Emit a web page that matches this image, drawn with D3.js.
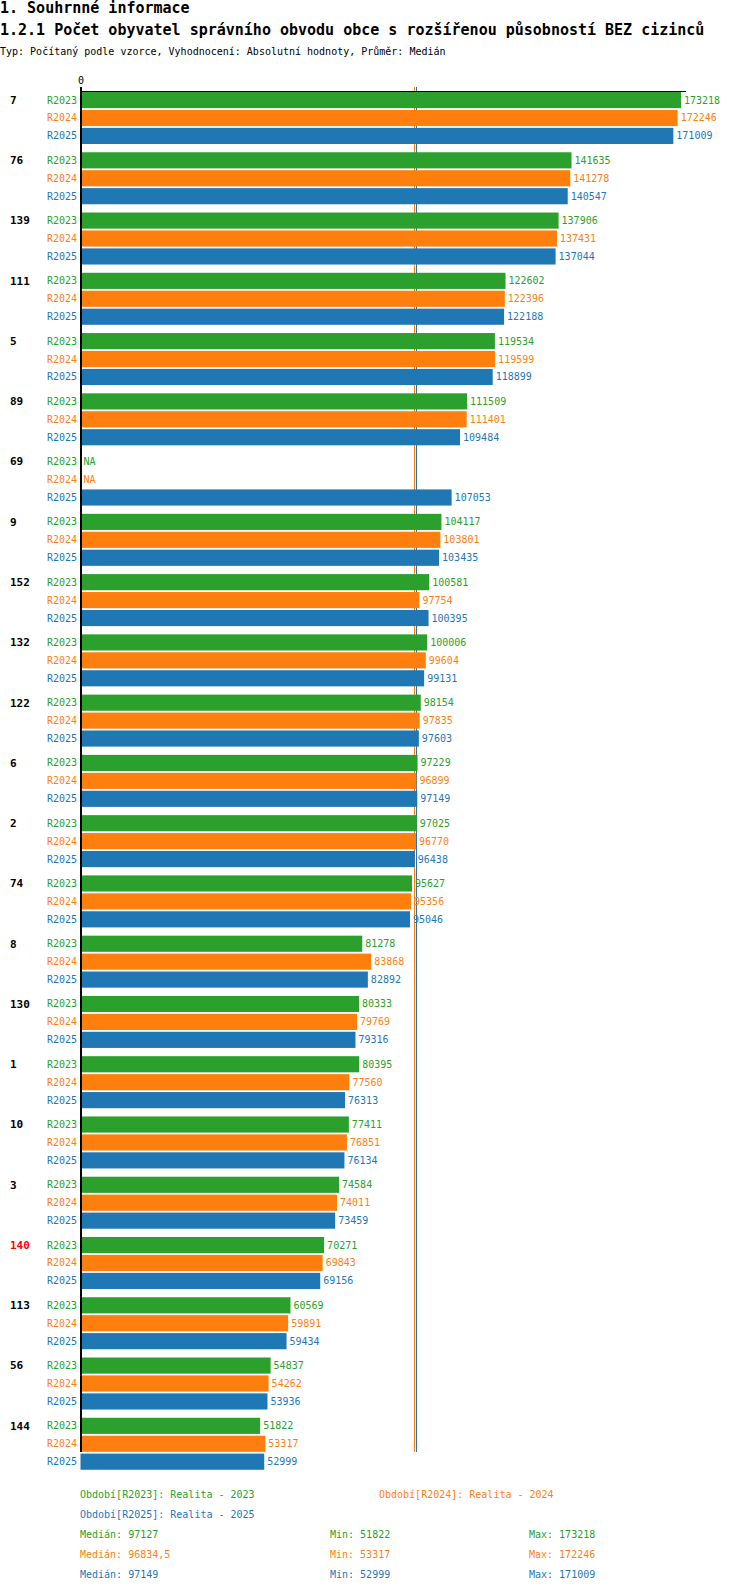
<!DOCTYPE html>
<html>
<head>
<meta charset="utf-8">
<script src="https://cdn.jsdelivr.net/npm/d3@7"></script>
<style>
  body { margin: 0; background: #fff; }
  text { font-family: 'DejaVu Sans Mono', 'Liberation Mono', monospace; }
  .title { font-size: 15px; font-weight: bold; }
  .sub { font-size: 10px; }
  .grp { font-size: 11px; font-weight: bold; }
  .lbl { font-size: 10px; }
</style>
</head>
<body>
<div id="chart"></div>
<script>
// Obvody (poradi jako v grafu)
const categories = ['7', '76', '139', '111', '5', '89', '69', '9', '152', '132', '122',
  '6', '2', '74', '8', '130', '1', '10', '3', '140', '113', '56', '144'];
const highlighted = ['140'];

const series = ['R2023', 'R2024', 'R2025'];
const seriesNames = ['Realita - 2023', 'Realita - 2024', 'Realita - 2025'];

const r2023 = [173218, 141635, 137906, 122602, 119534, 111509, null, 104117, 100581, 100006, 98154,
  97229, 97025, 95627, 81278, 80333, 80395, 77411, 74584, 70271, 60569, 54837, 51822];
const r2024 = [172246, 141278, 137431, 122396, 119599, 111401, null, 103801, 97754, 99604, 97835,
  96899, 96770, 95356, 83868, 79769, 77560, 76851, 74011, 69843, 59891, 54262, 53317];
const r2025 = [171009, 140547, 137044, 122188, 118899, 109484, 107053, 103435, 100395, 99131, 97603,
  97149, 96438, 95046, 82892, 79316, 76313, 76134, 73459, 69156, 59434, 53936, 52999];

const xTicks = [0];

const colors = ['#2ca02c', '#ff7f0e', '#1f77b4'];

const values = [r2023, r2024, r2025];

const svg = d3.select('#chart')
  .append('svg')
  .attr('width', 750)
  .attr('height', 1592);

// Titles
svg.append('text').attr('class', 'title').attr('x', 0).attr('y', 13)
  .text('1. Souhrnné informace');
svg.append('text').attr('class', 'title').attr('x', 0).attr('y', 35)
  .text('1.2.1 Počet obyvatel správního obvodu obce s rozšířenou působností BEZ cizinců');
svg.append('text').attr('class', 'sub').attr('x', 0).attr('y', 55)
  .text('Typ: Počítaný podle vzorce, Vyhodnocení: Absolutní hodnoty, Průměr: Medián');

// Scales
const chartTop = 92;
const groupStep = 60;
const x = d3.scaleLinear()
  .domain([0, d3.max(r2023)])
  .range([80.5, 681]);

const yGroup = d3.scaleBand()
  .domain(categories)
  .range([chartTop, chartTop + groupStep * categories.length])
  .paddingInner(0.1)
  .paddingOuter(0)
  .align(0);

const ySeries = d3.scaleBand()
  .domain(series)
  .range([0, 52])
  .paddingInner(0.1);

const axisBottom = chartTop + groupStep * categories.length - 20;

// Median lines (behind bars)
values.forEach((vals, i) => {
  const med = d3.median(vals.filter(v => v != null));
  const mx = Math.floor(x(med)) - 0.5 + (i === 1 ? -1 : 0);
  svg.append('line')
    .attr('x1', mx)
    .attr('x2', mx)
    .attr('y1', 87)
    .attr('y2', axisBottom)
    .attr('stroke', colors[i])
    .attr('stroke-width', 1);
});

// Groups
const rows = categories.map((c, ci) => ({
  cat: c,
  items: series.map((s, si) => ({ s, si, v: values[si][ci] })),
}));

const g = svg.selectAll('g.group')
  .data(rows)
  .enter()
  .append('g')
  .attr('class', 'group')
  .attr('transform', d => `translate(0, ${yGroup(d.cat)})`);

g.append('text')
  .attr('class', 'grp')
  .attr('x', 10)
  .attr('y', ySeries('R2023') + ySeries.bandwidth() / 2)
  .attr('dy', '0.35em')
  .attr('fill', d => (highlighted.includes(d.cat) ? '#ff0000' : '#000'))
  .text(d => d.cat);

const item = g.selectAll('g.item')
  .data(d => d.items)
  .enter()
  .append('g')
  .attr('class', 'item')
  .attr('transform', d => `translate(0, ${ySeries(d.s)})`);

item.append('text')
  .attr('class', 'lbl')
  .attr('x', 77)
  .attr('y', ySeries.bandwidth() / 2)
  .attr('dy', '0.35em')
  .attr('text-anchor', 'end')
  .attr('fill', d => colors[d.si])
  .text(d => d.s);

item.filter(d => d.v != null)
  .append('rect')
  .attr('x', x(0))
  .attr('y', 0)
  .attr('width', d => x(d.v) - x(0))
  .attr('height', ySeries.bandwidth())
  .attr('fill', d => colors[d.si]);

item.append('text')
  .attr('class', 'lbl')
  .attr('x', d => (d.v != null ? x(d.v) + 3 : x(0) + 3))
  .attr('y', ySeries.bandwidth() / 2)
  .attr('dy', '0.35em')
  .attr('fill', d => colors[d.si])
  .text(d => (d.v != null ? d.v : 'NA'));

// Axes
const xAxis = d3.axisTop(x).tickValues(xTicks).tickSize(5).tickSizeOuter(0);
const axG = svg.append('g')
  .attr('transform', `translate(0, ${chartTop - 0.5})`)
  .call(xAxis);
axG.select('.domain').attr('d', `M${x(0)},0H686`).attr('stroke', '#000');
axG.selectAll('.tick line').remove();
axG.selectAll('.tick text')
  .attr('y', -11)
  .attr('dy', '0.35em')
  .style('font-family', "'DejaVu Sans Mono', monospace")
  .style('font-size', '10px')
  .attr('fill', '#000');

svg.append('line')
  .attr('x1', 81).attr('x2', 81)
  .attr('y1', 87).attr('y2', axisBottom)
  .attr('stroke', '#000')
  .attr('stroke-width', 2);

// Legend
const fmt = v => String(v).replace('.', ',');
const legendTop = 1494;
const legendPos = [[80, legendTop], [379, legendTop], [80, legendTop + 20]];
series.forEach((s, i) => {
  svg.append('text')
    .attr('class', 'lbl')
    .attr('x', legendPos[i][0])
    .attr('y', legendPos[i][1])
    .attr('dy', '0.35em')
    .attr('fill', colors[i])
    .text(`Období[${s}]: ${seriesNames[i]}`);
});

values.forEach((vals, i) => {
  const clean = vals.filter(v => v != null);
  const yy = legendTop + 40 + i * 20;
  const stats = [
    [80, `Medián: ${fmt(d3.median(clean))}`],
    [330, `Min: ${fmt(d3.min(clean))}`],
    [529, `Max: ${fmt(d3.max(clean))}`],
  ];
  stats.forEach(([sx, t]) => {
    svg.append('text')
      .attr('class', 'lbl')
      .attr('x', sx)
      .attr('y', yy)
      .attr('dy', '0.35em')
      .attr('fill', colors[i])
      .text(t);
  });
});
</script>
</body>
</html>
